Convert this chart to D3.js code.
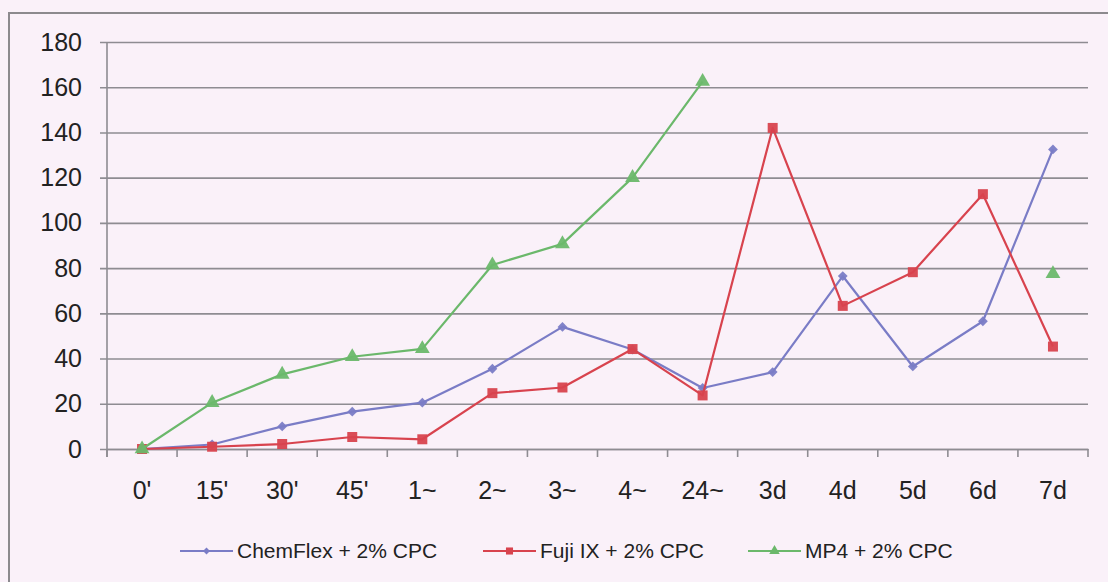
<!DOCTYPE html>
<html>
<head>
<meta charset="utf-8">
<script src="https://cdn.jsdelivr.net/npm/d3@7"></script>
<style>
  html, body { margin: 0; padding: 0; background: #faf1f9; }
  svg { display: block; }
  text { font-family: "Liberation Sans", Arial, sans-serif; fill: #222; }
</style>
</head>
<body>
<svg id="chart" width="1108" height="582"></svg>
<script>
const categories = ["0'", "15'", "30'", "45'", "1~", "2~", "3~", "4~", "24~", "3d", "4d", "5d", "6d", "7d"];
const chemflex = [0, 2, 10, 16.5, 20.5, 35.5, 54, 44, 27, 34, 76.5, 36.5, 56.5, 132.5];
const fuji     = [0, 1, 2.2, 5.3, 4.3, 24.7, 27.2, 44.2, 23.7, 142, 63.3, 78.2, 112.7, 45.3];
const mp4      = [0, 20.5, 33, 40.8, 44.3, 81.4, 90.7, 120, 162.5, null, null, null, null, 77.5];
const yTicks   = [0, 20, 40, 60, 80, 100, 120, 140, 160, 180];
const seriesNames = ["ChemFlex + 2% CPC", "Fuji IX + 2% CPC", "MP4 + 2% CPC"];

const svg = d3.select("#chart");
const plot = { left: 107, right: 1088, top: 42, bottom: 449 };

// outer border (frame extends past the photo on right/bottom)
svg.append("rect").attr("x", 9).attr("y", 13).attr("width", 1120).attr("height", 600)
  .attr("fill", "#faf1f9").attr("stroke", "#8c8a8e").attr("stroke-width", 2);

const x = d3.scaleBand().domain(categories).range([plot.left, plot.right]);
const y = d3.scaleLinear().domain([0, 180]).range([plot.bottom, plot.top]);

const gridColor = "#8e8c92";
const fontFam = '"Liberation Sans", Arial, sans-serif';

// gridlines + y axis
const yAxis = d3.axisLeft(y).tickValues(yTicks).tickSize(plot.right - plot.left + 7).tickFormat(d3.format("d"));
const gy = svg.append("g").attr("transform", `translate(${plot.right},0)`).call(yAxis);
gy.select(".domain").remove();
gy.selectAll(".tick line").attr("stroke", gridColor).attr("stroke-width", 1.6);
gy.selectAll(".tick text").attr("font-size", 25).attr("fill", "#222")
  .attr("x", -(plot.right - plot.left) - 25).style("font-family", fontFam);

// y axis line
svg.append("line").attr("x1", plot.left).attr("x2", plot.left).attr("y1", plot.top).attr("y2", plot.bottom + 8)
  .attr("stroke", gridColor).attr("stroke-width", 1.6);

// x axis
const xAxis = d3.axisBottom(x).tickSize(0);
const gx = svg.append("g").attr("transform", `translate(0,${plot.bottom})`).call(xAxis);
gx.select(".domain").attr("stroke", gridColor).attr("stroke-width", 1.6);
gx.selectAll(".tick text").attr("font-size", 25).attr("fill", "#222").attr("dy", "0")
  .attr("y", 50).style("font-family", fontFam);
// x tick marks at band boundaries
const boundaries = categories.map(c => x(c)).concat([plot.right]);
svg.append("g").selectAll("line").data(boundaries).join("line")
  .attr("x1", d => d).attr("x2", d => d).attr("y1", plot.bottom).attr("y2", plot.bottom + 8)
  .attr("stroke", gridColor).attr("stroke-width", 1.6);

const cx = c => x(c) + x.bandwidth() / 2;

const series = [
  { name: seriesNames[0], values: chemflex, color: "#7a7cc6", marker: "diamond" },
  { name: seriesNames[1], values: fuji, color: "#d8434e", marker: "square" },
  { name: seriesNames[2], values: mp4, color: "#6bb86b", marker: "triangle" }
];

function markerPath(m, scale) {
  if (m === "diamond") return d3.symbol().type(d3.symbolSquare).size(48 * scale)();
  if (m === "square") return d3.symbol().type(d3.symbolSquare).size(100 * scale)();
  return d3.symbol().type(d3.symbolTriangle).size(95 * scale)();
}
const rot = m => m === "diamond" ? " rotate(45)" : "";

series.forEach(s => {
  const pts = categories.map((c, i) => ({ c, v: s.values[i] }));
  const line = d3.line().defined(d => d.v !== null).x(d => cx(d.c)).y(d => y(d.v));
  svg.append("path").attr("d", line(pts)).attr("fill", "none")
    .attr("stroke", s.color).attr("stroke-width", 2.2).attr("stroke-linejoin", "round");
  svg.append("g").selectAll("path").data(pts.filter(d => d.v !== null)).join("path")
    .attr("d", markerPath(s.marker, 1))
    .attr("transform", d => `translate(${cx(d.c)},${y(d.v)})` + rot(s.marker))
    .attr("fill", s.color).attr("opacity", 0.95);
});

// legend
const legendX = [180, 483, 748];
const legendY = 551;
series.forEach((s, i) => {
  const g = svg.append("g").attr("transform", `translate(${legendX[i]},${legendY})`);
  g.append("line").attr("x1", 0).attr("x2", 53).attr("y1", 0).attr("y2", 0)
    .attr("stroke", s.color).attr("stroke-width", 2.2);
  g.append("path").attr("d", markerPath(s.marker, 0.5))
    .attr("transform", "translate(26.5,0)" + rot(s.marker)).attr("fill", s.color);
  g.append("text").attr("x", 57).attr("y", 0).attr("dy", "0.35em")
    .attr("font-size", 21).text(s.name);
});
</script>
</body>
</html>
